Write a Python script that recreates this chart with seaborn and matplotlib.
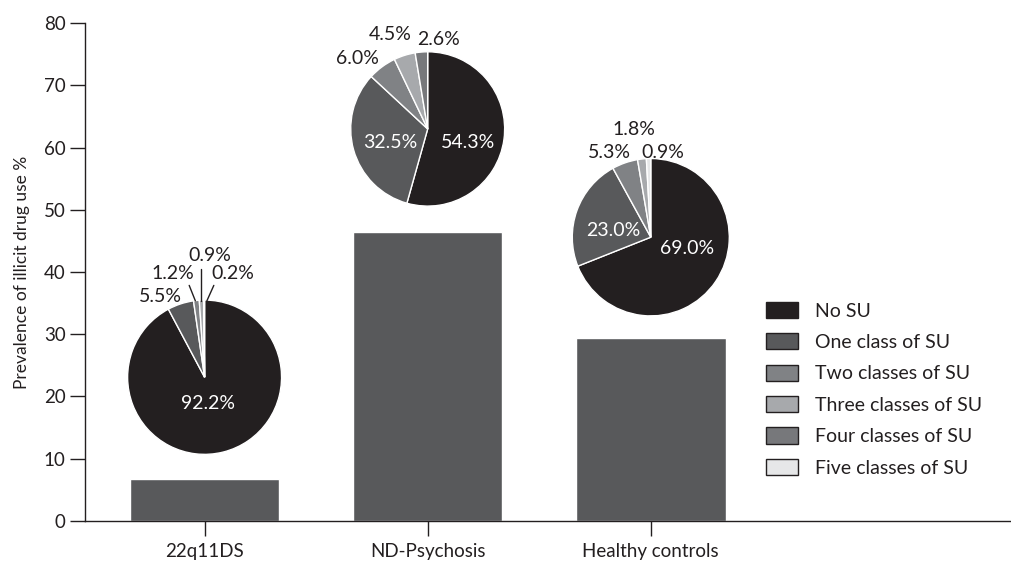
import numpy as np
import pandas as pd
import matplotlib
matplotlib.use('Agg')
import matplotlib.pyplot as plt
from matplotlib.patches import Patch
import seaborn as sns

sns.set_style('ticks')
plt.rcParams['font.family'] = ['Lato', 'DejaVu Sans']
INK = '#231f20'
plt.rcParams['text.color'] = INK
plt.rcParams['axes.labelcolor'] = INK
plt.rcParams['xtick.color'] = INK
plt.rcParams['ytick.color'] = INK

# ── Data ──────────────────────────────────────────────────────────────────
groups     = ['22q11DS', 'ND-Psychosis', 'Healthy controls']
prevalence = [6.7, 46.4, 29.4]

su_classes = ['No SU', 'One class of SU', 'Two classes of SU',
              'Three classes of SU', 'Four classes of SU', 'Five classes of SU']
su_colors  = ['#231f20', '#58595b', '#808285', '#a7a9ac', '#77787b', '#e6e7e8']

pie_22q = [92.2, 5.5, 1.2, 0.9, 0.2]
pie_nd  = [54.3, 32.5, 6.0, 4.5, 2.6]
pie_hc  = [69.0, 23.0, 5.3, 1.8, 0.9]
pie_cls = [[0, 1, 2, 3, 4], [0, 1, 2, 3, 4], [0, 1, 2, 3, 5]]
pie_centres_y = [23.1, 63.0, 45.6]

# label positions in pie-radius units (style only)
label_pos = [
    [(0.04, -0.34), (-0.58, 1.05), (-0.41, 1.35), (0.07, 1.58), (0.37, 1.35)],
    [(0.52, -0.17), (-0.49, -0.17), (-0.91, 0.91), (-0.49, 1.22), (0.14, 1.16)],
    [(0.46, -0.14), (-0.48, 0.09), (-0.53, 1.08), (-0.22, 1.37), (0.15, 1.08)],
]
leaders_22q = [None, None,
               ((-0.12, 0.99), (-0.20, 1.19)),
               ((-0.05, 0.99), (-0.05, 1.40)),
               ((0.03, 0.99), (0.12, 1.19))]

# ── Figure ────────────────────────────────────────────────────────────────
fig = plt.figure(figsize=(10.12, 5.65), dpi=100)
ax = fig.add_axes([0.084, 0.078, 0.914, 0.881])

df = pd.DataFrame({'group': groups, 'prev': prevalence})
sns.barplot(data=df, x='group', y='prev', color='#58595b', saturation=1,
            width=0.67, ax=ax)

ax.set_ylim(0, 80)
ax.set_xlim(-0.536, 3.61)
ax.set_yticks(range(0, 81, 10))
ax.set_ylabel('Prevalence of illicit drug use %', fontsize=12.5, color=INK,
              labelpad=10)
ax.set_xlabel('')
ax.tick_params(axis='both', labelsize=13.5, length=11, width=1, direction='out',
               colors=INK)
ax.tick_params(axis='x', pad=5)
ax.tick_params(axis='y', pad=3)
sns.despine(ax=ax)
for s in ['left', 'bottom']:
    ax.spines[s].set_color(INK)
    ax.spines[s].set_linewidth(1)

# pies as inset axes placed in data coordinates
rx, ry = 0.345, 12.4
for i, vals in enumerate([pie_22q, pie_nd, pie_hc]):
    cy = pie_centres_y[i]
    rscale = 1.0 if i < 2 else 1.02
    pax = ax.inset_axes([i - rx * rscale, cy - ry * rscale, 2 * rx * rscale, 2 * ry * rscale],
                        transform=ax.transData)
    cols = [su_colors[c] for c in pie_cls[i]]
    pax.pie(vals, colors=cols, startangle=90, counterclock=False,
            wedgeprops=dict(edgecolor='white', linewidth=1))
    pax.set_xlim(-1, 1)
    pax.set_ylim(-1, 1)
    pax.set_aspect('auto')
    pax.axis('off')
    for j, v in enumerate(vals):
        x, y = label_pos[i][j]
        inside = y < 0.5
        pax.text(x, y, f'{v:.1f}%', ha='center', va='center', fontsize=14,
                 color='white' if inside else INK)
    if i == 0:
        for seg in leaders_22q:
            if seg is None:
                continue
            (x0, y0), (x1, y1) = seg
            pax.plot([x0, x1], [y0, y1], color=INK, lw=1, clip_on=False)

handles = [Patch(facecolor=c, edgecolor=INK, linewidth=1) for c in su_colors]
leg = ax.legend(handles, su_classes, loc='upper left', bbox_to_anchor=(0.736, 0.44),
                frameon=False, fontsize=14, handlelength=1.65, handleheight=0.9,
                labelspacing=0.7, handletextpad=0.9, borderpad=0, borderaxespad=0)
for t in leg.get_texts():
    t.set_color(INK)

plt.savefig('out.png', dpi=100)
plt.close()
